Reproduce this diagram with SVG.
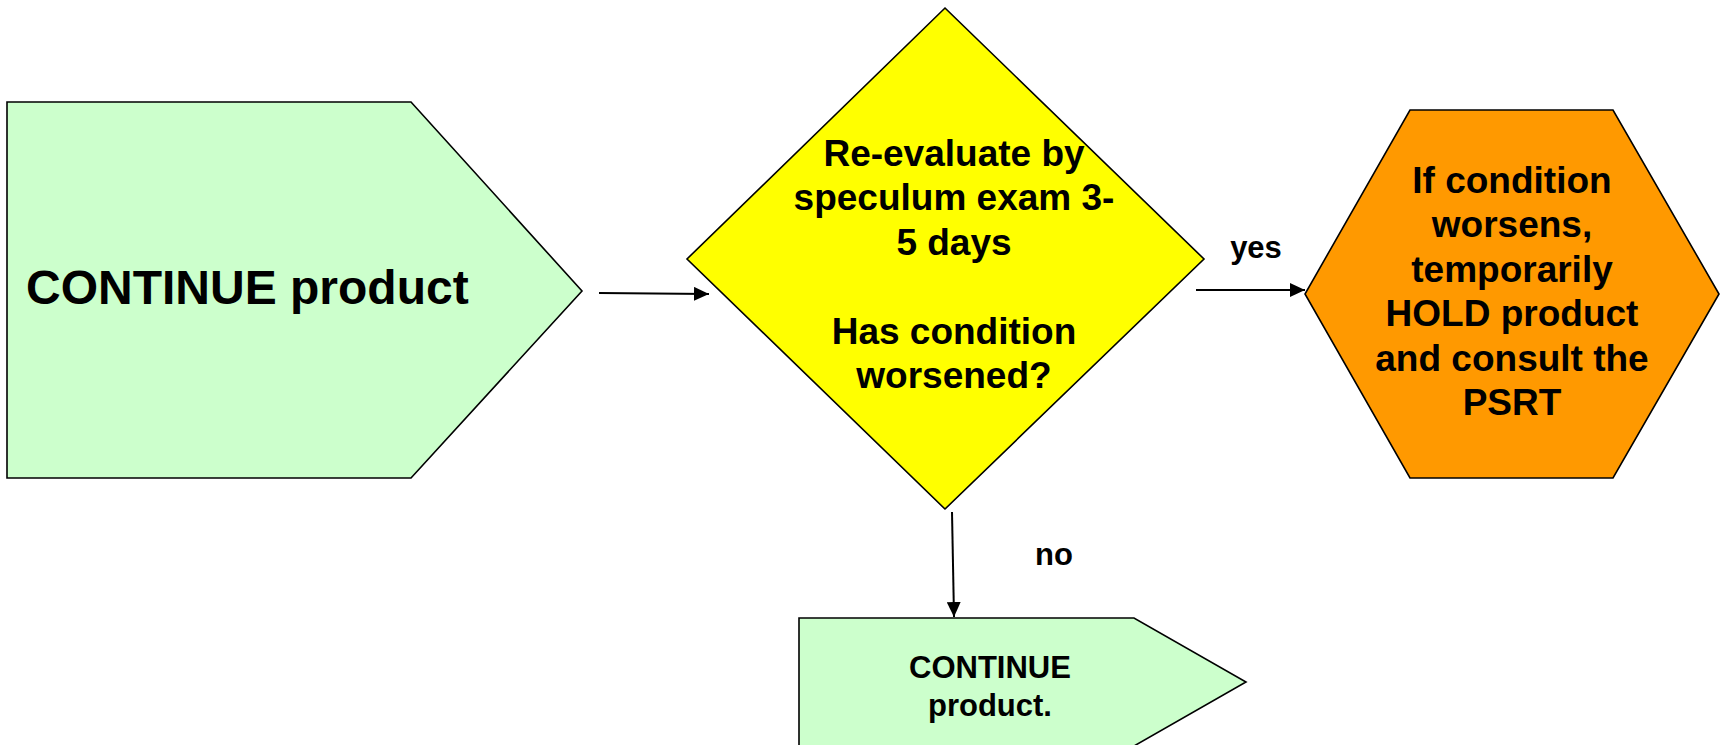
<svg xmlns="http://www.w3.org/2000/svg" width="1723" height="745" viewBox="0 0 1723 745">
  <style>
    .shape { stroke: #000; stroke-width: 1.6; stroke-linejoin: miter; }
    .go { fill: #CCFFCC; }
    .decide { fill: #FFFF00; }
    .hold { fill: #FF9900; }
    .txt { font-family: "Liberation Sans", Arial, sans-serif; font-weight: bold; fill: #000; text-anchor: middle; }
    .big { font-size: 48px; text-anchor: start; }
    .body { font-size: 37px; }
    .lbl { font-size: 31px; }
    .conn { stroke: #000; stroke-width: 2; fill: none; marker-end: url(#arrow); }
  </style>
  <defs>
    <marker id="arrow" markerUnits="userSpaceOnUse" markerWidth="16" markerHeight="14" refX="15" refY="7" orient="auto">
      <path d="M0,0 L15,7 L0,14 z" fill="#000"/>
    </marker>
  </defs>

  <rect width="1723" height="745" fill="#fff"/>

  <!-- start: continue product -->
  <g id="continue-start">
    <polygon class="shape go" points="7,102 411,102 582,291 411,478 7,478"/>
    <text class="txt big" x="26" y="304">CONTINUE product</text>
  </g>

  <!-- decision: re-evaluate -->
  <g id="reevaluate">
    <polygon class="shape decide" points="945,8 1204,259 945,509 687,259"/>
    <text class="txt body" x="954" y="166">Re-evaluate by</text>
    <text class="txt body" x="954" y="210.4">speculum exam 3-</text>
    <text class="txt body" x="954" y="254.8">5 days</text>
    <text class="txt body" x="954" y="343.6">Has condition</text>
    <text class="txt body" x="954" y="388">worsened?</text>
  </g>

  <!-- outcome: hold product -->
  <g id="hold-product">
    <polygon class="shape hold" points="1410,110 1613,110 1719,294 1613,478 1410,478 1305,294"/>
    <text class="txt body" x="1512" y="193">If condition</text>
    <text class="txt body" x="1512" y="237.4">worsens,</text>
    <text class="txt body" x="1512" y="281.8">temporarily</text>
    <text class="txt body" x="1512" y="326.2">HOLD product</text>
    <text class="txt body" x="1512" y="370.6">and consult the</text>
    <text class="txt body" x="1512" y="415">PSRT</text>
  </g>

  <!-- outcome: continue product -->
  <g id="continue-end">
    <polygon class="shape go" points="799,618 1134,618 1246,682 1134,746 799,746"/>
    <text class="txt lbl" x="990" y="678">CONTINUE</text>
    <text class="txt lbl" x="990" y="716">product.</text>
  </g>

  <!-- connectors -->
  <g id="connectors">
    <line class="conn" x1="599" y1="293" x2="709" y2="294"/>
    <line class="conn" x1="1196" y1="290" x2="1305" y2="290"/>
    <line class="conn" x1="952" y1="512" x2="954" y2="617"/>
    <text class="txt lbl" x="1256" y="258">yes</text>
    <text class="txt lbl" x="1054" y="565">no</text>
  </g>
</svg>
